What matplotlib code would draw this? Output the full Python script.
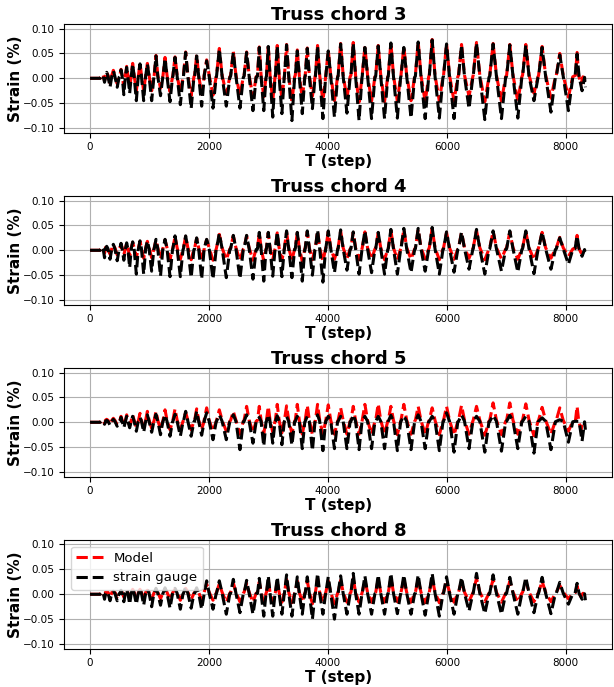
import matplotlib
matplotlib.use("Agg")
import matplotlib.pyplot as plt

# ---- data ----
cycle_steps = [207, 280, 392, 521, 616, 717, 840, 964, 1109, 1261, 1429, 1608, 1793, 1961,
               2174, 2409, 2633, 2846, 2997, 3148, 3305, 3485, 3653, 3826, 4006, 4214, 4426,
               4622, 4846, 5059, 5277, 5518, 5753, 5995, 6247, 6499, 6778, 7059, 7328, 7602,
               7899, 8190]
end_step = 8330

titles = ["Truss chord 3", "Truss chord 4", "Truss chord 5", "Truss chord 8"]

chord3_gauge_peak = [0.007, 0.012, 0.015, 0.017, 0.022, 0.029, 0.029, 0.029, 0.045, 0.040, 0.042, 0.052, 0.045, 0.035, 0.059, 0.052, 0.052, 0.062, 0.064, 0.065, 0.067, 0.055, 0.060, 0.065, 0.055, 0.069, 0.071, 0.062, 0.065, 0.071, 0.062, 0.073, 0.077, 0.069, 0.067, 0.071, 0.069, 0.067, 0.067, 0.062, 0.047, 0.049]
chord3_gauge_trough = [-0.008, -0.018, -0.018, -0.033, -0.030, -0.045, -0.045, -0.045, -0.035, -0.047, -0.053, -0.061, -0.056, -0.060, -0.056, -0.060, -0.065, -0.065, -0.078, -0.071, -0.085, -0.071, -0.061, -0.081, -0.078, -0.070, -0.085, -0.081, -0.081, -0.080, -0.080, -0.081, -0.080, -0.081, -0.061, -0.083, -0.081, -0.080, -0.045, -0.068, -0.065, -0.025]
chord3_model_peak = [0.008, 0.013, 0.016, 0.018, 0.024, 0.030, 0.031, 0.030, 0.046, 0.042, 0.043, 0.053, 0.047, 0.037, 0.060, 0.054, 0.053, 0.063, 0.065, 0.066, 0.068, 0.057, 0.061, 0.066, 0.057, 0.070, 0.072, 0.064, 0.066, 0.072, 0.064, 0.074, 0.078, 0.070, 0.068, 0.072, 0.070, 0.068, 0.068, 0.064, 0.050, 0.052]
chord3_model_trough = [-0.005, -0.010, -0.011, -0.018, -0.017, -0.025, -0.026, -0.025, -0.020, -0.027, -0.030, -0.035, -0.032, -0.034, -0.032, -0.035, -0.038, -0.037, -0.045, -0.041, -0.048, -0.040, -0.036, -0.046, -0.045, -0.040, -0.048, -0.046, -0.047, -0.046, -0.045, -0.047, -0.046, -0.046, -0.036, -0.047, -0.046, -0.046, -0.030, -0.040, -0.038, -0.012]

chord4_gauge_peak = [0.007, 0.008, 0.012, 0.014, 0.015, 0.017, 0.019, 0.019, 0.022, 0.022, 0.029, 0.029, 0.025, 0.022, 0.034, 0.030, 0.030, 0.036, 0.036, 0.037, 0.039, 0.036, 0.039, 0.041, 0.039, 0.041, 0.037, 0.039, 0.036, 0.042, 0.044, 0.044, 0.046, 0.037, 0.037, 0.042, 0.039, 0.039, 0.039, 0.037, 0.025, 0.029]
chord4_gauge_trough = [-0.015, -0.018, -0.021, -0.020, -0.035, -0.048, -0.048, -0.042, -0.052, -0.053, -0.053, -0.055, -0.058, -0.058, -0.055, -0.057, -0.058, -0.062, -0.052, -0.053, -0.055, -0.062, -0.050, -0.064, -0.045, -0.040, -0.048, -0.045, -0.048, -0.048, -0.045, -0.042, -0.048, -0.044, -0.038, -0.048, -0.042, -0.044, -0.047, -0.038, -0.028, -0.012]
chord4_model_peak = [0.006, 0.008, 0.011, 0.013, 0.014, 0.016, 0.018, 0.018, 0.021, 0.021, 0.027, 0.028, 0.024, 0.021, 0.032, 0.029, 0.029, 0.034, 0.035, 0.035, 0.037, 0.035, 0.037, 0.039, 0.037, 0.039, 0.036, 0.037, 0.035, 0.040, 0.042, 0.042, 0.044, 0.036, 0.036, 0.040, 0.038, 0.037, 0.037, 0.036, 0.026, 0.030]
chord4_model_trough = [-0.006, -0.008, -0.009, -0.009, -0.012, -0.015, -0.016, -0.015, -0.017, -0.018, -0.018, -0.019, -0.020, -0.020, -0.019, -0.020, -0.020, -0.022, -0.019, -0.020, -0.020, -0.022, -0.019, -0.022, -0.018, -0.017, -0.019, -0.018, -0.019, -0.019, -0.018, -0.017, -0.019, -0.018, -0.016, -0.019, -0.017, -0.018, -0.019, -0.016, -0.012, -0.005]

chord5_gauge_peak = [0.003, 0.004, 0.006, 0.010, 0.012, 0.012, 0.010, 0.015, 0.016, 0.015, 0.016, 0.022, 0.022, 0.019, 0.015, 0.015, 0.015, 0.010, 0.015, 0.013, 0.012, 0.012, 0.012, 0.015, 0.012, 0.012, 0.015, 0.012, 0.012, 0.014, 0.013, 0.015, 0.012, 0.019, 0.015, 0.012, 0.014, 0.014, 0.012, 0.009, 0.005, 0.002]
chord5_gauge_trough = [-0.004, -0.006, -0.008, -0.011, -0.011, -0.018, -0.020, -0.020, -0.025, -0.028, -0.028, -0.028, -0.026, -0.035, -0.035, -0.055, -0.042, -0.048, -0.042, -0.045, -0.046, -0.053, -0.057, -0.057, -0.053, -0.053, -0.055, -0.053, -0.053, -0.057, -0.055, -0.053, -0.057, -0.060, -0.053, -0.060, -0.058, -0.053, -0.062, -0.055, -0.040, -0.038]
chord5_model_peak = [0.004, 0.006, 0.008, 0.012, 0.015, 0.015, 0.018, 0.022, 0.022, 0.025, 0.027, 0.020, 0.027, 0.029, 0.025, 0.022, 0.032, 0.032, 0.032, 0.036, 0.033, 0.036, 0.034, 0.036, 0.035, 0.029, 0.032, 0.036, 0.037, 0.032, 0.036, 0.032, 0.029, 0.032, 0.034, 0.032, 0.039, 0.039, 0.037, 0.030, 0.029, 0.032]
chord5_model_trough = [-0.003, -0.004, -0.005, -0.006, -0.007, -0.010, -0.011, -0.012, -0.014, -0.015, -0.015, -0.015, -0.014, -0.018, -0.018, -0.024, -0.020, -0.022, -0.020, -0.021, -0.022, -0.024, -0.025, -0.025, -0.024, -0.024, -0.024, -0.024, -0.024, -0.025, -0.024, -0.024, -0.025, -0.026, -0.024, -0.026, -0.025, -0.024, -0.027, -0.024, -0.018, -0.015]

chord8_gauge_peak = [0.005, 0.005, 0.006, 0.008, 0.010, 0.012, 0.012, 0.010, 0.012, 0.013, 0.012, 0.014, 0.013, 0.027, 0.027, 0.030, 0.028, 0.032, 0.037, 0.035, 0.039, 0.035, 0.035, 0.042, 0.035, 0.037, 0.042, 0.037, 0.039, 0.042, 0.039, 0.039, 0.042, 0.035, 0.034, 0.042, 0.039, 0.034, 0.034, 0.034, 0.024, 0.022]
chord8_gauge_trough = [-0.010, -0.013, -0.013, -0.015, -0.020, -0.020, -0.022, -0.025, -0.022, -0.028, -0.030, -0.028, -0.030, -0.030, -0.040, -0.037, -0.040, -0.044, -0.044, -0.040, -0.044, -0.040, -0.050, -0.040, -0.050, -0.040, -0.040, -0.040, -0.040, -0.039, -0.040, -0.042, -0.044, -0.040, -0.034, -0.039, -0.040, -0.040, -0.037, -0.039, -0.020, -0.010]
chord8_model_peak = [0.004, 0.004, 0.005, 0.006, 0.008, 0.010, 0.010, 0.008, 0.010, 0.011, 0.010, 0.012, 0.011, 0.021, 0.021, 0.023, 0.022, 0.025, 0.028, 0.027, 0.030, 0.027, 0.027, 0.032, 0.027, 0.028, 0.032, 0.028, 0.030, 0.032, 0.030, 0.030, 0.032, 0.027, 0.026, 0.032, 0.030, 0.026, 0.026, 0.026, 0.018, 0.017]
chord8_model_trough = [-0.004, -0.005, -0.005, -0.006, -0.008, -0.008, -0.009, -0.010, -0.009, -0.011, -0.012, -0.011, -0.012, -0.012, -0.016, -0.015, -0.016, -0.017, -0.017, -0.016, -0.017, -0.016, -0.019, -0.016, -0.019, -0.016, -0.016, -0.016, -0.016, -0.015, -0.016, -0.017, -0.017, -0.016, -0.014, -0.015, -0.016, -0.016, -0.015, -0.015, -0.009, -0.005]

gauge_end = [-0.018, -0.008, -0.015, -0.012]
model_end = [-0.006, -0.003, 0.002, 0.001]
shelf_level = [0.004, 0.003, 0.002, 0.002]

panels = [
    (chord3_model_peak, chord3_model_trough, chord3_gauge_peak, chord3_gauge_trough),
    (chord4_model_peak, chord4_model_trough, chord4_gauge_peak, chord4_gauge_trough),
    (chord5_model_peak, chord5_model_trough, chord5_gauge_peak, chord5_gauge_trough),
    (chord8_model_peak, chord8_model_trough, chord8_gauge_peak, chord8_gauge_trough),
]


def build_series(peaks, troughs, end_val, shelf, end_t):
    t = [0, 170]
    y = [0.0, 0.0]
    n = len(cycle_steps)
    for i in range(n):
        c = cycle_steps[i]
        dt = (cycle_steps[i + 1] - c) if i < n - 1 else (end_t - c) * 1.2
        t += [c - 0.2 * dt, c, c + 0.2 * dt, c + 0.5 * dt, c + 0.75 * dt]
        y += [shelf, peaks[i], shelf, troughs[i], shelf * 0.5]
    t.append(end_t)
    y.append(end_val)
    return t, y


fig, axes = plt.subplots(4, 1, figsize=(6.14, 6.87), dpi=100)
fig.subplots_adjust(left=0.105, right=0.997, top=0.965, bottom=0.056, hspace=0.585)

for k, ax in enumerate(axes):
    mp, mt, gp, gt = panels[k]
    tm, ym = build_series(mp, mt, model_end[k], shelf_level[k] + 0.002, end_step - 30)
    tg, yg = build_series(gp, gt, gauge_end[k], shelf_level[k], end_step)
    ax.plot(tm, ym, color="red", linestyle="--", linewidth=2.2, label="Model")
    ax.plot(tg, yg, color="black", linestyle="--", linewidth=2.2, label="strain gauge")
    ax.set_xlim(-430, 8780)
    ax.set_ylim(-0.109, 0.109)
    ax.set_yticks([-0.10, -0.05, 0.0, 0.05, 0.10])
    ax.set_xticks([0, 2000, 4000, 6000, 8000])
    ax.grid(True, color="#b0b0b0", linewidth=0.8)
    ax.tick_params(labelsize=7.5)
    ax.set_title(titles[k], fontsize=13, fontweight="bold", pad=3)
    ax.set_xlabel("T (step)", fontsize=11, fontweight="bold", labelpad=1)
    ax.set_ylabel("Strain (%)", fontsize=11, fontweight="bold", labelpad=0)

axes[3].legend(loc="upper left", fontsize=9.5, handlelength=2.0)

fig.savefig("out.png", dpi=100)
